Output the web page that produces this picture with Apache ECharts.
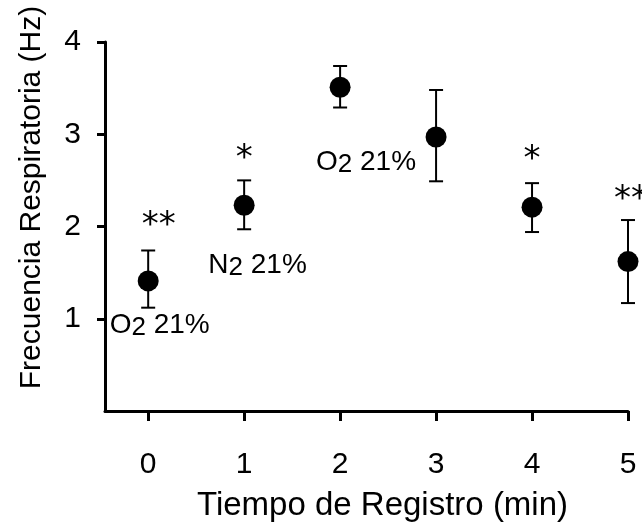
<!DOCTYPE html>
<html>
<head>
<meta charset="utf-8">
<script src="https://cdn.jsdelivr.net/npm/echarts@6/dist/echarts.min.js"></script>
<style>html,body{margin:0;padding:0;background:#fff}#c{width:642px;height:531px}</style>
</head>
<body>
<div id="c"></div>
<script>
// Data
const times = [0, 1, 2, 3, 4, 5];
const means = [1.41, 2.23, 3.51, 2.97, 2.21, 1.62];
const upper = [1.74, 2.50, 3.74, 3.48, 2.47, 2.07];
const lower = [1.12, 1.97, 3.29, 2.49, 1.94, 1.17];
const xTicks = [0, 1, 2, 3, 4, 5];
const yTicks = [1, 2, 3, 4];
// annotation texts and anchor positions (data units)
const gasLabels = [
  { x: 0.12, y: 0.92, gas: 'O', sub: '2', rest: ' 21%' },
  { x: 1.14, y: 1.57, gas: 'N', sub: '2', rest: ' 21%' },
  { x: 2.27, y: 2.69, gas: 'O', sub: '2', rest: ' 21%' }
];
const starLabels = [
  { x: 0.11, y: 2.00, text: '**' },
  { x: 1.00, y: 2.73, text: '*' },
  { x: 4.00, y: 2.72, text: '*' },
  { x: 5.03, y: 2.29, text: '**' }
];

const FONT = 'Liberation Sans, Arial, sans-serif';
const chart = echarts.init(document.getElementById('c'), null, { renderer: 'canvas' });

const option = {
  animation: false,
  backgroundColor: '#fff',
  grid: { left: 105, right: 14, top: 42, bottom: 120, outerBoundsMode: 'none' },
  xAxis: {
    type: 'value', min: -0.45, max: 5,
    name: 'Tiempo de Registro (min)', nameLocation: 'middle', nameGap: 78,
    nameTextStyle: { fontFamily: FONT, fontSize: 33, color: '#000', padding: [0, 0, 0, 32] },
    axisLine: { show: true, onZero: false, lineStyle: { color: '#000', width: 3 } },
    axisTick: { show: true, length: 10, lineStyle: { color: '#000', width: 3 }, customValues: xTicks },
    axisLabel: { fontFamily: FONT, fontSize: 30, color: '#000', margin: 39, customValues: xTicks },
    splitLine: { show: false }
  },
  yAxis: {
    type: 'value', min: 0, max: 4,
    name: 'Frecuencia Respiratoria (Hz)', nameLocation: 'middle', nameGap: 58, nameRotate: 90,
    nameTextStyle: { fontFamily: FONT, fontSize: 30, color: '#000', padding: [0, 0, 0, 58] },
    axisLine: { show: true, onZero: false, lineStyle: { color: '#000', width: 3 } },
    axisTick: { show: true, length: 8, lineStyle: { color: '#000', width: 3 }, customValues: yTicks },
    axisLabel: { fontFamily: FONT, fontSize: 30, color: '#000', margin: 24, customValues: yTicks },
    splitLine: { show: false }
  },
  series: [
    {
      type: 'custom',
      data: times.map((t, i) => [t, lower[i], upper[i]]),
      renderItem: function (params, api) {
        const x = api.value(0);
        const pLo = api.coord([x, api.value(1)]);
        const pHi = api.coord([x, api.value(2)]);
        const w = 7;
        const st = { stroke: '#000', lineWidth: 2 };
        return {
          type: 'group',
          children: [
            { type: 'line', shape: { x1: pLo[0], y1: pLo[1], x2: pHi[0], y2: pHi[1] }, style: st },
            { type: 'line', shape: { x1: pHi[0] - w, y1: pHi[1], x2: pHi[0] + w, y2: pHi[1] }, style: st },
            { type: 'line', shape: { x1: pLo[0] - w, y1: pLo[1], x2: pLo[0] + w, y2: pLo[1] }, style: st }
          ]
        };
      },
      z: 2
    },
    {
      type: 'scatter',
      data: times.map((t, i) => [t, means[i]]),
      symbol: 'circle', symbolSize: 21,
      itemStyle: { color: '#000', opacity: 1 },
      z: 3
    },
    {
      type: 'scatter', clip: false, silent: true,
      symbolSize: 0,
      itemStyle: { opacity: 1 },
      data: gasLabels.map(g => [g.x, g.y]),
      label: {
        show: true, position: 'inside',
        formatter: function (p) {
          const g = gasLabels[p.dataIndex];
          return '{a|' + g.gas + '}{s|' + g.sub + '}{a|' + g.rest + '}';
        },
        rich: {
          a: { fontFamily: FONT, fontSize: 28, color: '#000', lineHeight: 30, verticalAlign: 'top' },
          s: { fontFamily: FONT, fontSize: 26, color: '#000', lineHeight: 30, verticalAlign: 'bottom', padding: [9, 0, 0, 0] }
        }
      },
      z: 4
    },
    {
      type: 'scatter', clip: false, silent: true,
      symbolSize: 0,
      itemStyle: { opacity: 1 },
      data: starLabels.map(s => [s.x, s.y]),
      label: {
        show: true, position: 'inside',
        formatter: function (p) { return starLabels[p.dataIndex].text; },
        fontFamily: 'DejaVu Sans, sans-serif', fontSize: 34, color: '#000'
      },
      z: 4
    }
  ]
};
chart.setOption(option);
</script>
</body>
</html>
